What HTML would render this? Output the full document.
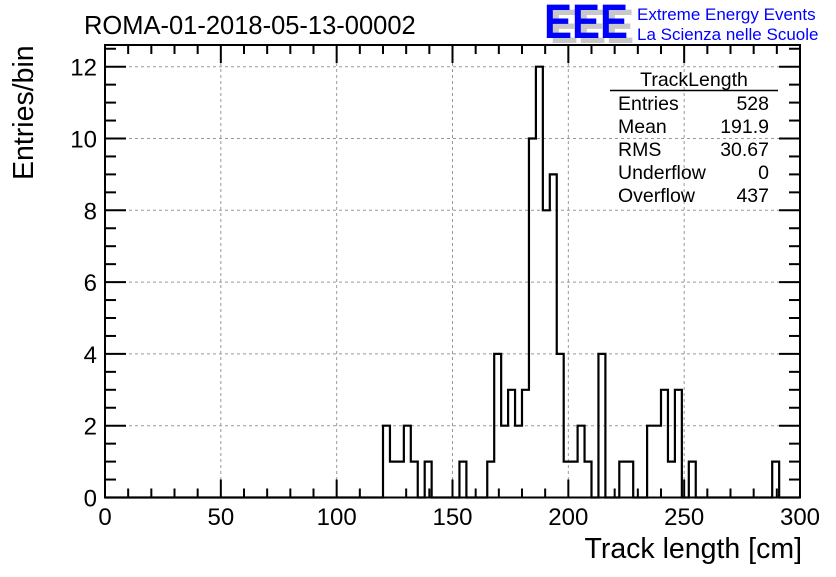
<!DOCTYPE html>
<html><head><meta charset="utf-8"><style>
body{margin:0;background:#fff;}
svg text{font-family:"Liberation Sans",sans-serif;}
</style></head><body>
<svg id="chart" width="836" height="572" viewBox="0 0 836 572" xmlns="http://www.w3.org/2000/svg">
<rect width="836" height="572" fill="#fff"/>
<g id="grid"></g>
<g id="axes"></g>
<path id="hist" fill="none" stroke="#000" stroke-width="2.2"/>
<text x="84" y="34" font-size="25.5">ROMA-01-2018-05-13-00002</text>
<g>
<text x="550" y="43" font-size="48" fill="#c8c8c8" font-weight="bold" textLength="84" lengthAdjust="spacingAndGlyphs">EEE</text>
<text x="544" y="38" font-size="48" fill="#0000ff" font-weight="bold" textLength="84" lengthAdjust="spacingAndGlyphs">EEE</text>
<text x="637" y="20" font-size="17">
<tspan fill="#0000ff">Extreme Energy Events</tspan></text>
<text x="637" y="40" font-size="17" fill="#0000ff">La Scienza nelle Scuole</text>
</g>
<g font-size="19.5">
<text x="694" y="86" text-anchor="middle">TrackLength</text>
<line x1="610" y1="90.5" x2="778" y2="90.5" stroke="#000" stroke-width="1.5"/>
<text x="618" y="110">Entries</text><text x="769" y="110" text-anchor="end">528</text>
<text x="618" y="133">Mean</text><text x="769" y="133" text-anchor="end">191.9</text>
<text x="618" y="156">RMS</text><text x="769" y="156" text-anchor="end">30.67</text>
<text x="618" y="179">Underflow</text><text x="769" y="179" text-anchor="end">0</text>
<text x="618" y="202">Overflow</text><text x="769" y="202" text-anchor="end">437</text>
</g>
<text x="802" y="558" font-size="28.5" text-anchor="end">Track length [cm]</text>
<text transform="translate(33,180) rotate(-90)" font-size="28.5" text-anchor="start">Entries/bin</text>
</svg>
<script>
const binStart = [40,41,42,43,44,45,46,51,55,56,57,58,59,60,61,62,63,64,65,66,67,68,69,71,74,75,78,79,80,81,82,84,96];
const binCounts = [2,1,1,2,1,0,1,1,1,4,2,3,2,3,10,12,8,9,4,1,1,2,1,4,1,1,2,2,3,1,3,1,1];
const xTicks = [0,50,100,150,200,250,300];
const yTicks = [0,2,4,6,8,10,12];
const binWidth = 3, nBins = 100;
const X0=105,X1=800,Y0=497.5,Y1=45;
const xs=v=>X0+(v/300)*(X1-X0);
const ys=v=>Y0-v*(Y0-66.7)/12;
const ns="http://www.w3.org/2000/svg";
function mk(tag,attrs,parent){const e=document.createElementNS(ns,tag);for(const k in attrs)e.setAttribute(k,attrs[k]);parent.appendChild(e);return e;}
const grid=document.getElementById('grid'),axes=document.getElementById('axes');
xTicks.forEach(t=>{if(t>0&&t<300){const l=mk('line',{x1:xs(t),x2:xs(t),y1:Y1,y2:Y0,stroke:'#999','stroke-dasharray':'3,3','stroke-width':1},grid);}});
yTicks.forEach(t=>{if(t>0){const l=mk('line',{x1:X0,x2:X1,y1:ys(t),y2:ys(t),stroke:'#999','stroke-dasharray':'3,3','stroke-width':1},grid);}});
const fr=mk('rect',{x:X0,y:Y1,width:X1-X0,height:Y0-Y1,fill:'none',stroke:'#000','stroke-width':2},axes);

for(let v=0;v<=300;v+=10){const maj=v%50===0,L=maj?18:9;
 mk('line',{x1:xs(v),x2:xs(v),y1:Y0,y2:Y0-L,stroke:'#000','stroke-width':2},axes);
 mk('line',{x1:xs(v),x2:xs(v),y1:Y1,y2:Y1+L,stroke:'#000','stroke-width':2},axes);}
for(let v=0;v<=12.6;v+=0.5){const maj=v%2===0,L=maj?21:11;if(ys(v)<Y1)break;
 mk('line',{x1:X0,x2:X0+L,y1:ys(v),y2:ys(v),stroke:'#000','stroke-width':2},axes);
 mk('line',{x1:X1,x2:X1-L,y1:ys(v),y2:ys(v),stroke:'#000','stroke-width':2},axes);}
xTicks.forEach(t=>{const e=mk('text',{x:xs(t),y:525,'font-size':24,'text-anchor':'middle'},axes);e.textContent=t;});
yTicks.forEach(t=>{const e=mk('text',{x:97,y:ys(t)+9,'font-size':24,'text-anchor':'end'},axes);e.textContent=t;});
const counts=new Array(nBins).fill(0);
binStart.forEach((b,i)=>counts[b]=binCounts[i]);
let d=`M${xs(0)},${ys(0)}`;
for(let i=0;i<nBins;i++){d+=` L${xs(i*binWidth)},${ys(counts[i])} L${xs((i+1)*binWidth)},${ys(counts[i])}`;}
document.getElementById('hist').setAttribute('d',d);
</script>
</body></html>
